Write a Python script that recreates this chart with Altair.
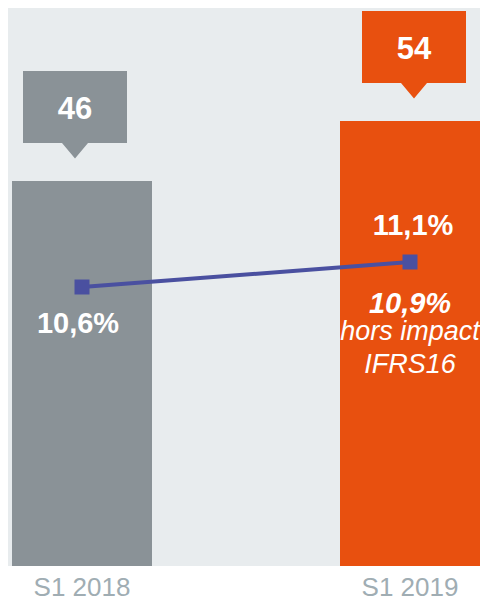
import altair as alt
import pandas as pd

# ---- data ----
periods = ["S1 2018", "S1 2019"]
ebitda = [46, 54]
ebitda_labels = ["46", "54"]
margin = [10.6, 11.1]
margin_labels = ["10,6%", "11,1%"]
ifrs_margin_label = ["10,9%"]
ifrs_note_1 = ["hors impact"]
ifrs_note_2 = ["IFRS16"]

bar_colors = ["#8a9297", "#e8500f"]
LINE_COLOR = "#4a50a0"
BG = "#e8ecee"
FONT = "Liberation Sans"

W, H = 472, 558
BAND = 140
BAR_DOMAIN = [-5.333, 69.067]
RATE_DOMAIN = [5.02, 16.18]

df = pd.DataFrame({
    "period": periods,
    "ebitda": ebitda,
    "ebitda_label": ebitda_labels,
    "margin": margin,
    "margin_label": margin_labels,
})
df_ifrs = pd.DataFrame({
    "period": [periods[1]],
    "margin": [margin[1]],
    "l1": ifrs_margin_label,
    "l2": ifrs_note_1,
    "l3": ifrs_note_2,
})

x = alt.X(
    "period:N",
    sort=periods,
    scale=alt.Scale(domain=periods, paddingInner=0.57317, paddingOuter=0.0061, align=1),
    axis=alt.Axis(
        title=None, labelAngle=0, domain=False, ticks=False, tickSize=0, grid=False,
        labelFont=FONT, labelFontSize=26, labelColor="#a0adb3",
        labelBaseline="alphabetic", labelPadding=29,
    ),
)
color = alt.Color("period:N", scale=alt.Scale(domain=periods, range=bar_colors), legend=None)
y_bar = alt.Y("ebitda:Q", scale=alt.Scale(domain=BAR_DOMAIN, nice=False, zero=False), axis=None)
y_rate = alt.Y("margin:Q", scale=alt.Scale(domain=RATE_DOMAIN, nice=False, zero=False), axis=None)

CALLOUT = ("M-1,-2.115 L1,-2.115 L1,-0.731 L0.25,-0.731 L0,-0.433 "
           "L-0.25,-0.731 L-1,-0.731 Z")

bars = alt.Chart(df).mark_bar().encode(
    x=x, y=y_bar, y2=alt.datum(BAR_DOMAIN[0]), color=color
)

def callout_layers(i, shift):
    base = alt.Chart(df).transform_filter(alt.datum.period == periods[i])
    shape = base.mark_point(
        shape=CALLOUT, size=10816, filled=True, opacity=1, strokeWidth=0
    ).encode(x=x, xOffset=alt.value(BAND / 2 + shift), y=y_bar, color=color)
    txt = base.mark_text(
        font=FONT, fontSize=31, fontWeight="bold", color="white",
        baseline="alphabetic", dy=-62, dx=shift
    ).encode(x=x, y=y_bar, text="ebitda_label:N")
    return [shape, txt]

bar_group = alt.layer(bars, *callout_layers(0, -7), *callout_layers(1, 4))

line = alt.Chart(df).mark_line(color=LINE_COLOR, strokeWidth=4).encode(x=x, y=y_rate)
pts = alt.Chart(df).mark_square(size=225, color=LINE_COLOR, opacity=1, filled=True).encode(x=x, y=y_rate)
lbl_a = alt.Chart(df).transform_filter(alt.datum.period == periods[0]).mark_text(
    font=FONT, fontSize=29, fontWeight="bold", color="white", baseline="alphabetic", dy=46, dx=-4
).encode(x=x, y=y_rate, text="margin_label:N")
lbl_b = alt.Chart(df).transform_filter(alt.datum.period == periods[1]).mark_text(
    font=FONT, fontSize=29, fontWeight="bold", color="white", baseline="alphabetic", dy=-27, dx=3
).encode(x=x, y=y_rate, text="margin_label:N")
ifrs1 = alt.Chart(df_ifrs).mark_text(
    font=FONT, fontSize=29, fontWeight="bold", fontStyle="italic", color="white",
    baseline="alphabetic", dy=51
).encode(x=x, y=y_rate, text="l1:N")
ifrs2 = alt.Chart(df_ifrs).mark_text(
    font=FONT, fontSize=27, fontStyle="italic", color="white",
    baseline="alphabetic", dy=78
).encode(x=x, y=y_rate, text="l2:N")
ifrs3 = alt.Chart(df_ifrs).mark_text(
    font=FONT, fontSize=27, fontStyle="italic", color="white",
    baseline="alphabetic", dy=111
).encode(x=x, y=y_rate, text="l3:N")

line_group = alt.layer(line, pts, lbl_a, lbl_b, ifrs1, ifrs2, ifrs3)

chart = alt.layer(bar_group, line_group).resolve_scale(y="independent").properties(
    width=W, height=H,
    autosize=alt.AutoSizeParams(type="none"),
    padding={"left": 0, "top": 0, "right": 0, "bottom": 36},
    background="white",
).configure_view(fill=BG, strokeWidth=0)

chart.save("out.html", embed_options={"renderer": "svg", "actions": False})
